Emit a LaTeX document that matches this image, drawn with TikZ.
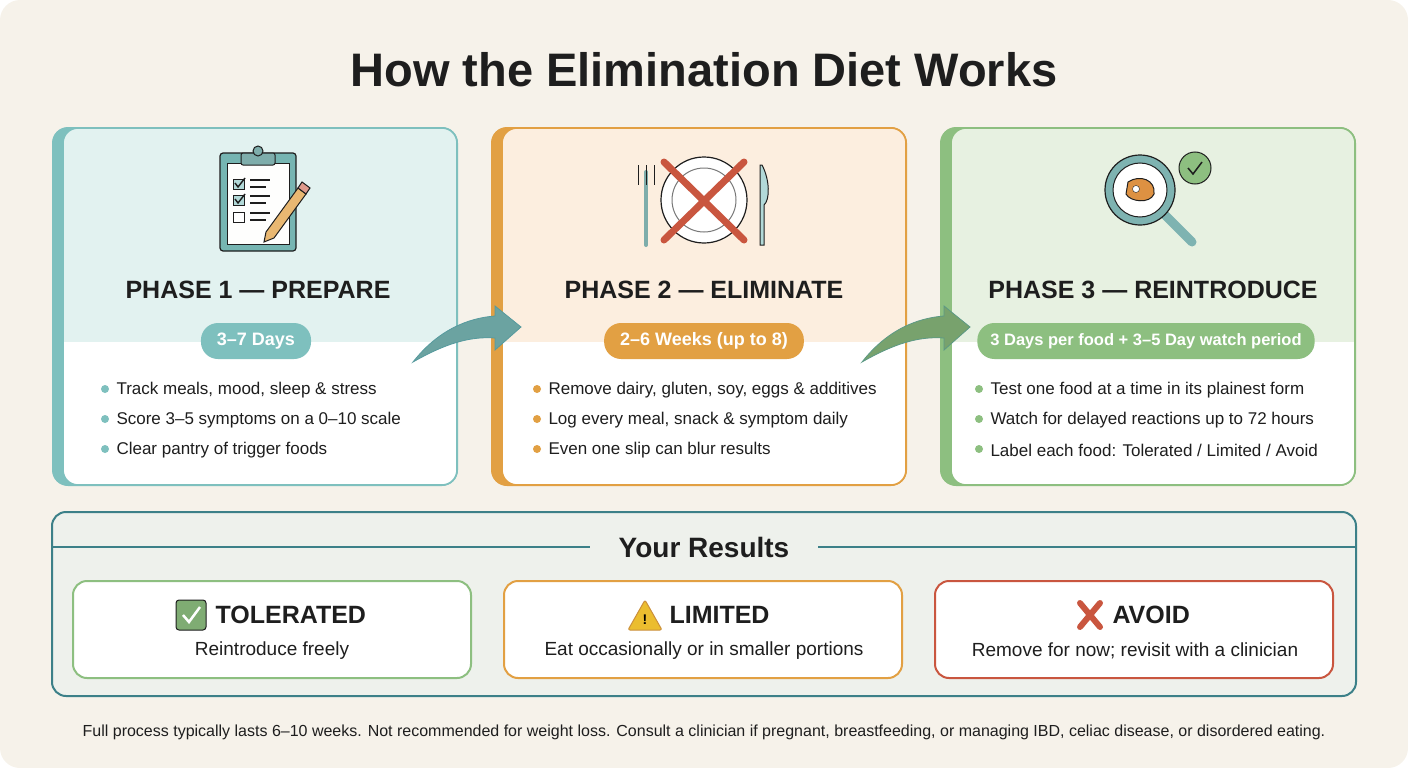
\documentclass[tikz,border=0pt]{standalone}
\usepackage{fontspec}
\setmainfont{Liberation Sans}
\definecolor{bgc}{HTML}{F6F2EA}
\definecolor{tealA}{HTML}{7EC0BE}
\definecolor{tealT}{HTML}{E2F2F0}
\definecolor{tealD}{HTML}{3C8088}
\definecolor{orA}{HTML}{E2A043}
\definecolor{orT}{HTML}{FCEEDF}
\definecolor{grA}{HTML}{8DBF80}
\definecolor{grT}{HTML}{E7F1E1}
\definecolor{rdA}{HTML}{C9563F}
\definecolor{resbg}{HTML}{EEF1EC}
\definecolor{txt}{HTML}{1E1E1E}
\tikzset{
  heading/.style={font=\bfseries\fontsize{25}{28}\selectfont, text=txt},
  pill/.style={rounded corners=17pt, minimum height=36pt, inner xsep=16pt, text=white, font=\bfseries\fontsize{18}{20}\selectfont},
  bul/.style={anchor=west, font=\fontsize{17}{19}\selectfont, text=txt},
  rtitle/.style={font=\bfseries\fontsize{25}{28}\selectfont, text=txt},
  rsub/.style={font=\fontsize{19}{22}\selectfont, text=txt},
}
\newcommand{\phasecard}[4]{% x0, accent, tint, width
  \fill[#2, rounded corners=16pt] (#1-11,127) rectangle (#1+#4,486);
  \begin{scope}
    \clip[rounded corners=15pt] (#1,128) rectangle (#1+#4-1,485);
    \fill[white] (#1,128) rectangle (#1+#4-1,485);
    \fill[#3] (#1,128) rectangle (#1+#4-1,342);
  \end{scope}
  \draw[#2, line width=1.6pt, rounded corners=15pt] (#1,128) rectangle (#1+#4-1,485);
}
\begin{document}
\begin{tikzpicture}[x=1pt,y=-1pt]
\useasboundingbox (0,0) rectangle (1408,768);
\fill[bgc, rounded corners=20pt] (0,0) rectangle (1408,768);
\node[font=\bfseries\fontsize{47}{52}\selectfont, text=txt] (title) at (704,70) {How the Elimination Diet Works};

% cards
\phasecard{63}{tealA}{tealT}{395}
\phasecard{502}{orA}{orT}{405}
\phasecard{951}{grA}{grT}{405}

% icon 1: clipboard
\begin{scope}[shift={(258,198)}]
  \fill[tealA!80!black!30!tealA, draw=txt, line width=1.2pt, rounded corners=3pt] (-38,-45) rectangle (38,53);
  \fill[white!90!bgc, draw=txt, line width=1pt] (-31,-35) rectangle (31,46);
  \fill[tealA!70!gray, draw=txt, line width=1pt, rounded corners=2pt] (-17,-45) rectangle (17,-33);
  \draw[txt, line width=1pt, fill=tealA!70!gray] (0,-47) circle (5);
  \foreach \yy in {-14,2,19}{
    \draw[txt, line width=1pt, fill=tealA!60] (-25,\yy-5) rectangle (-14,\yy+5);
    \draw[txt, line width=1.2pt] (-8,\yy-4) -- (12,\yy-4) (-8,\yy+3) -- (8,\yy+3);
  }
  \fill[white] (-25,14) rectangle (-14,24); \draw[txt, line width=1pt] (-25,14) rectangle (-14,24);
  \draw[txt, line width=1.4pt] (-23,-15) -- (-20,-11) -- (-13,-20) (-23,1) -- (-20,5) -- (-13,-4);
  \draw[txt, line width=1pt, fill=orA!75] (6,44) -- (8,34) -- (40,-10) -- (48,-4) -- (16,40) -- cycle;
  \fill[rdA!60, draw=txt, line width=1pt] (40,-10) -- (44,-16) -- (52,-10) -- (48,-4) -- cycle;
\end{scope}

% icon 2: plate
\begin{scope}[shift={(704,200)}]
  \draw[txt, line width=1.2pt, fill=white] (0,0) circle (43);
  \draw[txt!60, line width=1pt] (0,0) circle (32);
  \draw[tealA!70!gray, line width=4pt, line cap=round] (-58,-28) -- (-58,45);
  \draw[txt, line width=1pt] (-66,-35) -- (-66,-15) (-58,-35) -- (-58,-15) (-50,-35) -- (-50,-15);
  \draw[txt, line width=1pt, fill=tealA!60] (58,-35) .. controls (66,-20) and (66,0) .. (60,5) -- (60,45) -- (56,45) -- (56,-35) -- cycle;
  \draw[rdA, line width=7pt, line cap=round] (-40,-38) -- (40,40) (40,-38) -- (-40,40);
\end{scope}

% icon 3: magnifier
\begin{scope}[shift={(1140,190)}]
  \draw[tealA!80!gray, line width=9pt, line cap=round] (22,22) -- (52,52);
  \draw[txt, line width=1.2pt, fill=tealA!80!gray] (0,0) circle (35);
  \draw[txt, line width=1pt, fill=white] (0,0) circle (27);
  \draw[txt, line width=1pt, fill=orA!80!rdA] (-12,-8) .. controls (0,-16) and (16,-10) .. (14,4) .. controls (10,14) and (-10,12) .. (-14,4) -- cycle;
  \draw[txt, fill=white] (-4,-1) circle (3.5);
  \draw[txt, line width=1pt, fill=grA] (55,-22) circle (16);
  \draw[txt, line width=1.5pt] (48,-22) -- (53,-16) -- (62,-28);
\end{scope}

% headings
\node[heading] (h1) at (258,290) {PHASE 1 — PREPARE};
\node[heading] (h2) at (704,290) {PHASE 2 — ELIMINATE};
\node[heading] (h3) at (1153,290) {PHASE 3 — REINTRODUCE};
\node[pill, fill=tealA] (d1) at (256,341) {3–7 Days};
\node[pill, fill=orA] (d2) at (704,341) {2–6 Weeks (up to 8)};
\node[pill, fill=grA, inner xsep=13pt, font=\bfseries\fontsize{16.5}{20}\selectfont] (d3) at (1146,341) {3 Days per food + 3–5 Day watch period};

% bullets
\foreach \cx/\col/\a/\b/\c in {
  105/tealA/{Track meals, mood, sleep \& stress}/{Score 3–5 symptoms on a 0–10 scale}/{Clear pantry of trigger foods},
  537/orA/{Remove dairy, gluten, soy, eggs \& additives}/{Log every meal, snack \& symptom daily}/{Even one slip can blur results},
  979/grA/{Test one food at a time in its plainest form}/{Watch for delayed reactions up to 72 hours}/{Label each food: Tolerated / Limited / Avoid}}{
  \foreach \yy/\t in {390/\a,420/\b,450/\c}{
    \fill[\col] (\cx,\yy-1) circle (4);
    \node[bul] at (\cx+8,\yy) {\t};
  }
}

% arrows
\foreach \ax/\col in {413/tealA, 862/grA}{
  \fill[\col!85!black, draw=tealD!60!\col, line width=0.8pt]
    (\ax,362) .. controls (\ax+25,330) and (\ax+55,318) .. (\ax+82,316)
    -- (\ax+82,306) -- (\ax+108,327) -- (\ax+82,350) -- (\ax+82,338)
    .. controls (\ax+55,336) and (\ax+30,345) .. cycle;
}

% results
\draw[tealD, line width=2pt, fill=resbg, rounded corners=14pt] (52,512) rectangle (1356,696);
\node[font=\bfseries\fontsize{28}{32}\selectfont, text=txt] (yr) at (704,547) {Your Results};
\draw[tealD, line width=2pt] (52,547) -- (590,547) (818,547) -- (1356,547);

\foreach \bx/\col in {73/grA, 504/orA, 935/rdA}{
  \draw[\col, line width=2pt, fill=white, rounded corners=14pt] (\bx,581) rectangle (\bx+398,678);
}
\node[rtitle, anchor=west] (t1) at (212,615) {TOLERATED};
\draw[txt, line width=1pt, fill=grA!90!black, rounded corners=3pt] (176,600) rectangle (206,630);
\draw[white, line width=2.5pt] (183,615) -- (189,622) -- (200,607);
\node[rsub] (s1) at (272,651) {Reintroduce freely};

\node[rtitle, anchor=west] (t2) at (666,615) {LIMITED};
\draw[orA!90!black, line width=1pt, fill=orA!70!yellow, rounded corners=2pt, line join=round] (645,600) -- (662,630) -- (628,630) -- cycle;
\node[font=\bfseries\fontsize{14}{14}\selectfont] at (645,620) {!};
\node[rsub] (s2) at (704,651) {Eat occasionally or in smaller portions};

\node[rtitle, anchor=west] (t3) at (1109,615) {AVOID};
\draw[rdA, line width=6pt, line cap=round] (1080,603) -- (1100,627) (1100,603) -- (1080,627);
\node[rsub] (s3) at (1135,651) {Remove for now; revisit with a clinician};

\node[font=\fontsize{16}{18}\selectfont, text=txt] (foot) at (704,732) {Full process typically lasts 6–10 weeks. Not recommended for weight loss. Consult a clinician if pregnant, breastfeeding, or managing IBD, celiac disease, or disordered eating.};
\end{tikzpicture}
\end{document}
